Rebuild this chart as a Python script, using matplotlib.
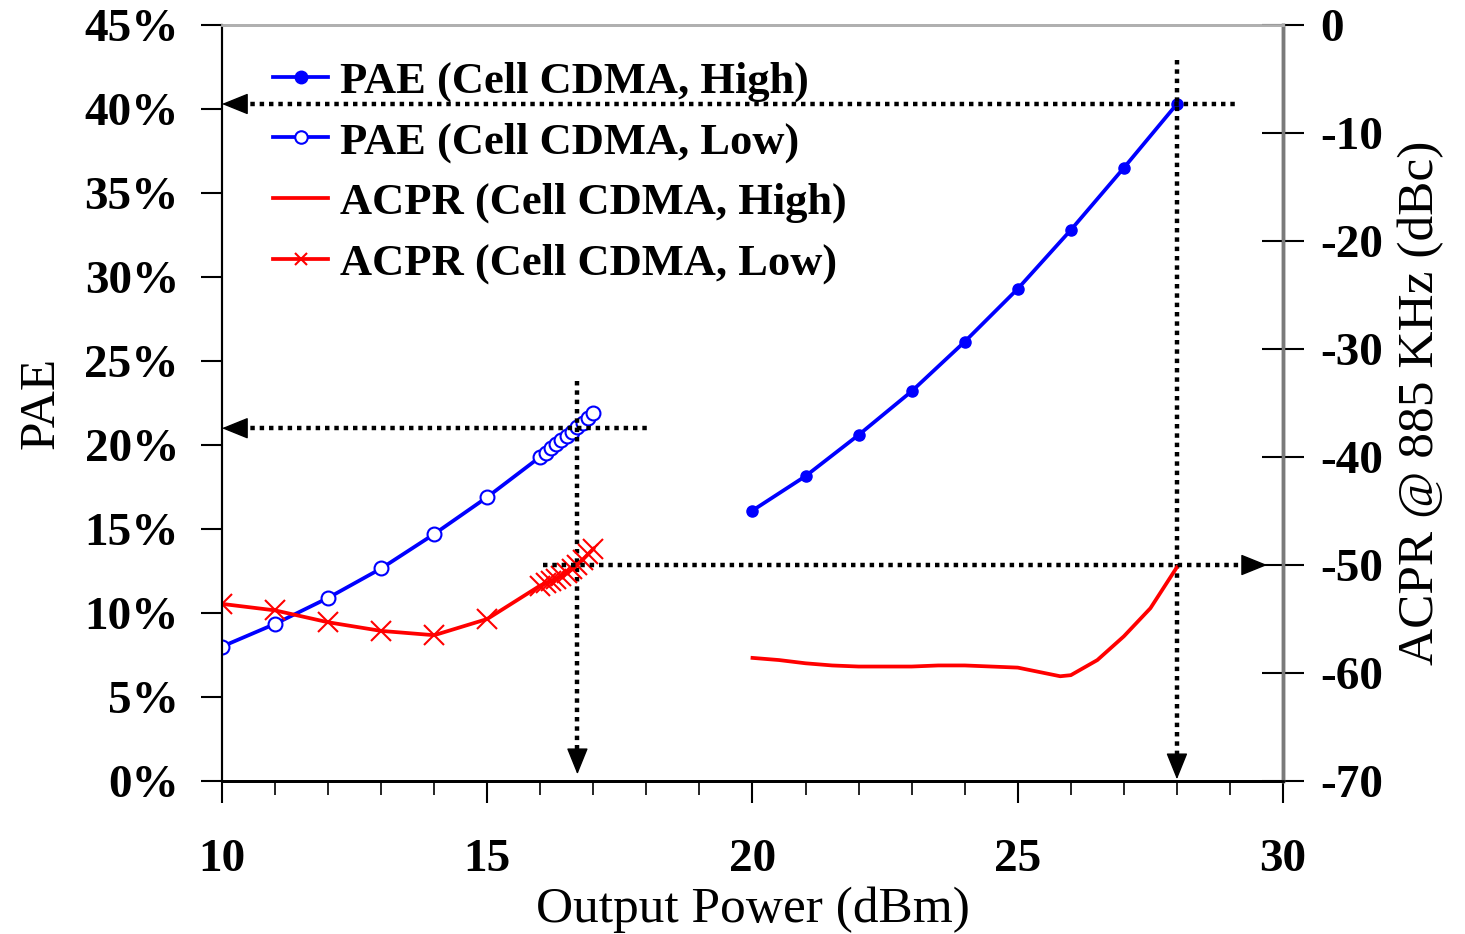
import matplotlib
matplotlib.use("Agg")
import matplotlib.pyplot as plt
from matplotlib.ticker import MultipleLocator, FuncFormatter

# data
x_high = [20, 21, 22, 23, 24, 25, 26, 27, 28]
pae_high = [16.1, 18.15, 20.6, 23.2, 26.15, 29.3, 32.8, 36.5, 40.3]

x_low = [10, 11, 12, 13, 14, 15, 16.0, 16.1, 16.2, 16.3, 16.4, 16.5, 16.6, 16.7, 16.8, 16.9, 17.0]
pae_low = [8.0, 9.35, 10.9, 12.65, 14.7, 16.9, 19.3, 19.55, 19.8, 20.05, 20.3, 20.55, 20.8, 21.05, 21.3, 21.6, 21.9]
acpr_low = [-53.6, -54.2, -55.3, -56.1, -56.5, -55.0, -51.9, -51.7, -51.5, -51.3, -51.0, -50.7, -50.4, -50.0, -49.5, -49.0, -48.5]

x_acpr_high = [20, 20.5, 21, 21.5, 22, 22.5, 23, 23.5, 24, 24.5, 25, 25.5, 25.8, 26, 26.5, 27, 27.5, 28]
acpr_high = [-58.6, -58.8, -59.1, -59.3, -59.4, -59.4, -59.4, -59.3, -59.3, -59.4, -59.5, -60.0, -60.3, -60.2, -58.8, -56.6, -54.0, -50.2]

labels = ["PAE (Cell CDMA, High)", "PAE (Cell CDMA, Low)",
          "ACPR (Cell CDMA, High)", "ACPR (Cell CDMA, Low)"]

serif = "Liberation Serif"

fig = plt.figure(figsize=(14.65, 9.34), dpi=100)
ax = fig.add_axes([0.1515, 0.1638, 0.7243, 0.8094])
ax2 = ax.twinx()

h1, = ax.plot(x_high, pae_high, color="blue", lw=2.7, marker="o", ms=8,
              mfc="blue", mec="blue")
h2, = ax.plot(x_low, pae_low, color="blue", lw=2.7, marker="o", ms=10,
              mfc="white", mec="blue", mew=1.5)
h3, = ax2.plot(x_acpr_high, acpr_high, color="red", lw=2.7)
h4, = ax2.plot(x_low, acpr_low, color="red", lw=2.7, marker="x", ms=15, mew=1.5)

ax.set_xlim(10, 30)
ax.set_ylim(0, 45)
ax2.set_ylim(-70, 0)

ax.xaxis.set_major_locator(MultipleLocator(5))
ax.xaxis.set_minor_locator(MultipleLocator(1))
ax.yaxis.set_major_locator(MultipleLocator(5))
ax.yaxis.set_major_formatter(FuncFormatter(lambda v, p: "%d%%" % round(v)))
ax2.yaxis.set_major_locator(MultipleLocator(10))
ax2.yaxis.set_major_formatter(FuncFormatter(lambda v, p: "%d" % round(v)))

ax.tick_params(axis="x", which="major", direction="out", length=16, width=1.5,
               pad=26, labelsize=34)
ax.tick_params(axis="x", which="minor", direction="out", length=10, width=1.2)
ax.tick_params(axis="y", direction="out", length=15, width=1.5, pad=16, labelsize=34)
ax2.tick_params(axis="y", direction="inout", length=30, width=1.5, pad=12, labelsize=34)

for t in ax.get_xticklabels() + ax.get_yticklabels() + ax2.get_yticklabels():
    t.set_family(serif)
    t.set_weight("bold")

for a in (ax, ax2):
    a.spines["top"].set_color("#b0b0b0")
    a.spines["top"].set_linewidth(2)
    a.spines["right"].set_color("#7a7a7a")
    a.spines["right"].set_linewidth(2.5)
    a.spines["left"].set_linewidth(1.5)
    a.spines["bottom"].set_linewidth(2)

ax.set_xlabel("Output Power (dBm)", family=serif, fontsize=37, labelpad=4)
ax.set_ylabel("PAE", family=serif, fontsize=37, labelpad=14)
ax2.set_ylabel("ACPR @ 885 KHz (dBc)", family=serif, fontsize=37, labelpad=10)

# dotted guide lines with arrow heads
dot = dict(color="black", lw=3.2, linestyle=(0, (1, 1.1)), zorder=5)
head = dict(arrowstyle="-|>,head_length=0.42,head_width=0.17", color="black",
            lw=1, mutation_scale=40, shrinkA=0, shrinkB=0)

ax.plot([10.35, 29.15], [40.3, 40.3], **dot)
ax.annotate("", xy=(10, 40.3), xytext=(10.4, 40.3), arrowprops=head, zorder=6)
ax.plot([28, 28], [42.9, 1.2], **dot)
ax.annotate("", xy=(28, 0.1), xytext=(28, 1.3), arrowprops=head, zorder=6)

ax.plot([10.35, 18.05], [21.0, 21.0], **dot)
ax.annotate("", xy=(10, 21.0), xytext=(10.4, 21.0), arrowprops=head, zorder=6)
ax.plot([16.7, 16.7], [23.8, 1.5], **dot)
ax.annotate("", xy=(16.7, 0.4), xytext=(16.7, 1.6), arrowprops=head, zorder=6)

ax2.plot([16.05, 29.3], [-50, -50], **dot)
ax2.annotate("", xy=(29.7, -50), xytext=(29.3, -50), arrowprops=head, zorder=6)

leg = ax2.legend([h1, h2, h3, h4], labels, loc="upper left",
                 bbox_to_anchor=(0.048, 0.952), frameon=False,
                 prop=dict(family=serif, weight="bold", size=32),
                 handlelength=1.25, handletextpad=0.25, labelspacing=0.45,
                 borderpad=0, borderaxespad=0)
for lh in leg.legend_handles:
    lh.set_markersize(9)

fig.savefig("out.png", dpi=100)
